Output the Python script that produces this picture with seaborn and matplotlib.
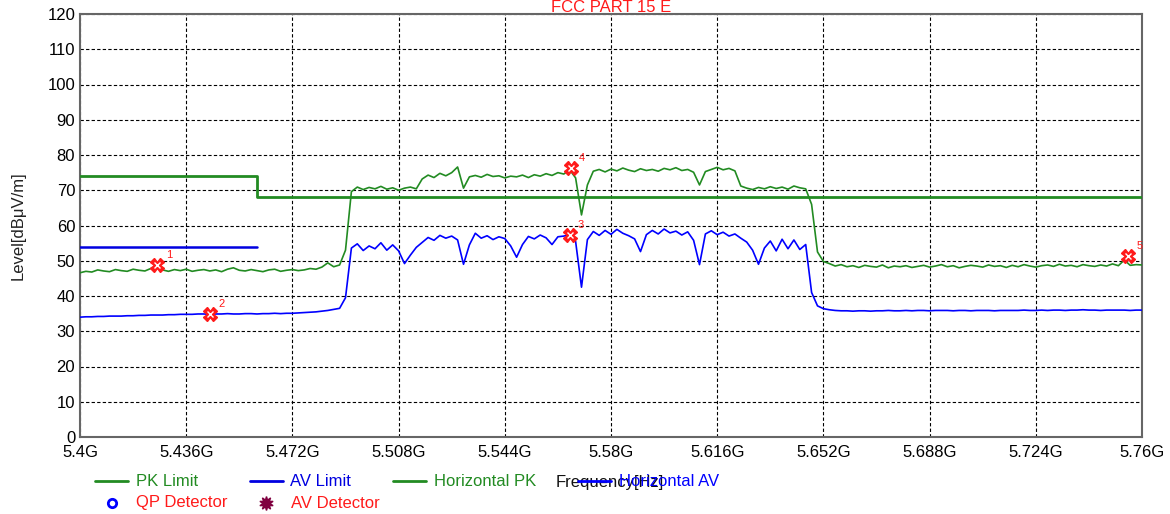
import numpy as np
import matplotlib
matplotlib.use("Agg")
import matplotlib.pyplot as plt
from matplotlib.lines import Line2D
import seaborn as sns

# ---------------- data ----------------
FREQ = np.round(5.4 + 0.002 * np.arange(181), 3)  # sweep points, GHz

PK_TRACE = [
    46.6, 47.0, 46.8, 47.4, 47.1, 46.9, 47.5, 47.2, 47.0, 47.6,
    47.3, 47.1, 47.8, 48.2, 47.4, 47.0, 47.5, 47.2, 47.6, 47.0,
    47.3, 47.5, 47.1, 47.4, 46.9, 47.6, 48.0, 47.3, 47.1, 47.5,
    47.2, 46.9, 47.4, 47.6, 47.0, 47.3, 47.5, 47.2, 47.4, 47.8,
    47.6, 48.2, 49.4, 48.3, 48.8,
    53.0, 69.6,
    70.9, 70.2, 70.8, 70.4, 71.1, 70.3, 70.7, 70.0, 70.6, 70.9, 70.4,
    73.2,
    74.3, 73.6, 74.8, 74.1, 75.0, 76.6,
    70.6, 73.8,
    74.2, 73.7, 74.5, 73.9, 74.1, 73.5, 74.0, 73.8, 74.3, 73.6,
    74.4, 74.0, 74.7, 74.2, 75.0, 74.6,
    75.8, 73.5, 63.0, 71.5,
    75.4, 75.9, 75.2, 76.0, 75.5, 76.3, 75.7, 75.3, 76.1, 75.6,
    75.9, 75.4, 76.2, 75.8, 76.4, 75.6, 75.9, 75.1,
    71.5,
    75.3, 75.9, 76.5, 75.8, 76.2, 75.5,
    71.2,
    70.6, 70.2, 70.8, 70.4, 71.0, 70.5, 70.9, 70.3, 71.2, 70.7, 70.4,
    66.0, 52.5, 49.8,
    49.2, 48.5, 48.9, 48.3, 48.6, 48.1, 48.7, 48.4, 48.2, 48.8,
    48.0, 48.5, 48.3, 48.6, 48.1, 48.4, 48.7, 48.2, 48.5, 48.9,
    48.3, 48.6, 48.0, 48.4, 48.7, 48.5, 48.2, 48.8, 48.4, 48.6,
    48.1, 48.7, 48.3, 48.9, 48.5, 48.2, 48.6, 48.8, 48.4, 49.0,
    48.5, 48.7, 48.3, 48.9, 48.6, 48.4, 48.8, 48.5, 49.1, 48.6,
    50.2, 48.7, 48.9, 48.8,
]

AV_TRACE = [
    34.0, 34.1, 34.1, 34.2, 34.2, 34.3, 34.3, 34.3, 34.4, 34.4,
    34.5, 34.5, 34.6, 34.6, 34.6, 34.7, 34.7, 34.8, 34.8, 34.8,
    34.9, 34.9, 34.8, 34.9, 34.9, 35.0, 34.9, 34.9, 35.0, 35.0,
    34.9, 35.0, 35.0, 35.1, 35.0, 35.1, 35.1, 35.2, 35.3, 35.4,
    35.5, 35.7, 35.9, 36.2, 36.5,
    39.5, 53.6,
    54.8, 52.9, 54.2, 53.4, 55.1, 53.0, 54.5,
    52.8, 49.2, 51.6, 53.8, 55.2,
    56.6, 55.8, 57.2, 56.4, 57.0, 55.9,
    49.0, 54.5,
    57.8, 56.4, 57.1, 56.0, 56.8, 56.3,
    54.2, 51.0, 54.6,
    56.9, 56.2, 57.3, 56.5,
    54.6, 56.8, 57.0, 57.4, 55.5, 42.5, 56.0,
    58.3, 57.2, 58.6, 57.5, 58.9, 57.8, 57.1, 56.2,
    52.6,
    57.4, 58.6, 57.6, 59.0, 57.9, 58.4, 57.3, 58.2, 55.8,
    48.9,
    57.6, 58.5, 57.4, 58.1, 57.0, 57.6, 56.4,
    55.3, 53.0, 49.0, 53.6,
    55.6, 52.8, 56.1, 53.4, 55.9, 53.2, 54.6,
    41.0, 37.2, 36.4,
    36.1, 35.9, 35.8, 35.8, 35.7, 35.8, 35.8, 35.7, 35.8, 35.8,
    35.9, 35.8, 35.8, 35.9, 35.8, 35.9, 35.9, 35.8, 35.9, 35.9,
    35.9, 35.8, 35.9, 35.9, 35.8, 35.9, 35.9, 35.9, 35.8, 35.9,
    35.9, 35.9, 35.9, 36.0, 35.9, 35.9, 36.0, 35.9, 36.0, 36.0,
    35.9, 36.0, 36.0, 36.1, 36.0, 36.0, 35.9, 36.0, 36.0, 36.0,
    36.0, 35.9, 36.0, 36.0,
]

PK_LIMIT_F = [5.40, 5.46, 5.46, 5.76]
PK_LIMIT_L = [74.0, 74.0, 68.2, 68.2]
AV_LIMIT_F = [5.40, 5.46]
AV_LIMIT_L = [54.0, 54.0]

MARK_F = [5.4262, 5.4440, 5.5660, 5.5663, 5.7552]
MARK_L = [48.8, 34.9, 57.3, 76.3, 51.3]
MARK_ID = ["1", "2", "3", "4", "5"]

XTICKS = [5.4, 5.436, 5.472, 5.508, 5.544, 5.58, 5.616, 5.652, 5.688, 5.724, 5.76]
XTICK_LABELS = ["5.4G", "5.436G", "5.472G", "5.508G", "5.544G", "5.58G",
                "5.616G", "5.652G", "5.688G", "5.724G", "5.76G"]
YTICKS = list(range(0, 121, 10))

assert len(PK_TRACE) == len(FREQ), len(PK_TRACE)
assert len(AV_TRACE) == len(FREQ), len(AV_TRACE)

# ---------------- style ----------------
sns.set_theme(style="white")
plt.rcParams["font.family"] = ["Liberation Sans", "DejaVu Sans"]
plt.rcParams["font.size"] = 12

GREEN = "#228b22"
BLUE = "#0000ff"
RED = "#ff1a1a"

W, H = 1170, 514
fig = plt.figure(figsize=(W / 100, H / 100), dpi=100)
ax = fig.add_axes([80 / W, 1 - 437 / H, 1062 / W, 423 / H])

# ---------------- traces ----------------
sns.lineplot(x=PK_LIMIT_F, y=PK_LIMIT_L, ax=ax, color=GREEN, lw=2.0,
             estimator=None, sort=False, zorder=3)
sns.lineplot(x=AV_LIMIT_F, y=AV_LIMIT_L, ax=ax, color="#0000e0", lw=1.8,
             estimator=None, sort=False, zorder=3)
sns.lineplot(x=FREQ, y=PK_TRACE, ax=ax, color=GREEN, lw=1.2,
             estimator=None, sort=False, zorder=4)
sns.lineplot(x=FREQ, y=AV_TRACE, ax=ax, color=BLUE, lw=1.2,
             estimator=None, sort=False, zorder=4)

ax.plot(MARK_F, MARK_L, linestyle="none", marker="X", ms=10, color=RED,
        mec=RED, zorder=6)
ax.plot(MARK_F, MARK_L, linestyle="none", marker="x", ms=4, color="white",
        mew=1.0, zorder=7)
for f, l, t in zip(MARK_F, MARK_L, MARK_ID):
    ax.annotate(t, (f, l), xytext=(6, 5), textcoords="offset points",
                color=RED, fontsize=8, zorder=8)

# ---------------- axes ----------------
ax.set_xlim(5.4, 5.76)
ax.set_ylim(0, 120)
ax.set_xticks(XTICKS)
ax.set_xticklabels(XTICK_LABELS)
ax.set_yticks(YTICKS)
ax.tick_params(axis="x", direction="in", length=6, width=0.8, pad=6,
               labelsize=12, colors="black")
ax.tick_params(axis="y", direction="in", length=4, width=0.8, pad=3.5,
               labelsize=12, colors="black")
ax.grid(True, color="black", linestyle=(0, (3, 2)), linewidth=0.8)
for s in ax.spines.values():
    s.set_color("#666666")
    s.set_linewidth(1.5)
ax.set_xlabel("")
ax.set_ylabel("")

fig.text(611 / W, 1 - 12 / H, "FCC PART 15 E", ha="center", va="baseline",
         color=RED, fontsize=12)
fig.text(18 / W, 1 - 226 / H, "Level[dB\u03bcV/m]", rotation=90,
         ha="center", va="center", fontsize=12, color="#222222")

# ---------------- legend ----------------
def px(x, y):
    return x / W, 1 - y / H

fig.text(*px(610, 482), "Frequency[Hz]", ha="center", va="center",
         fontsize=12, color="#111111", zorder=1)

row1 = [(95, 128, GREEN, 2.0, "PK Limit", 136),
        (250, 283, "#0000e0", 2.0, "AV Limit", 290),
        (393, 426, GREEN, 2.0, "Horizontal PK", 434),
        (578, 611, BLUE, 2.0, "Horizontal AV", 619)]
for x0, x1, c, lw, lab, tx in row1:
    (a0, yy), (a1, _) = px(x0, 481), px(x1, 481)
    fig.add_artist(Line2D([a0, a1], [yy, yy], color=c, lw=lw,
                          transform=fig.transFigure, zorder=5))
    fig.text(*px(tx, 482), lab, ha="left", va="center", fontsize=12,
             color=c, zorder=6)

mx, my = px(112, 503)
fig.add_artist(Line2D([mx], [my], marker="o", ms=6, mfc="white", mec=BLUE,
                      mew=2, linestyle="none", transform=fig.transFigure))
fig.text(*px(136, 503), "QP Detector", ha="left", va="center", fontsize=12,
         color=RED)
mx, my = px(266, 503)
fig.add_artist(Line2D([mx], [my], marker=(10, 1, 0), ms=10, color="#800040",
                      linestyle="none", transform=fig.transFigure))
fig.text(*px(291, 503), "AV Detector", ha="left", va="center", fontsize=12,
         color=RED)

fig.savefig("out.png", dpi=100)
